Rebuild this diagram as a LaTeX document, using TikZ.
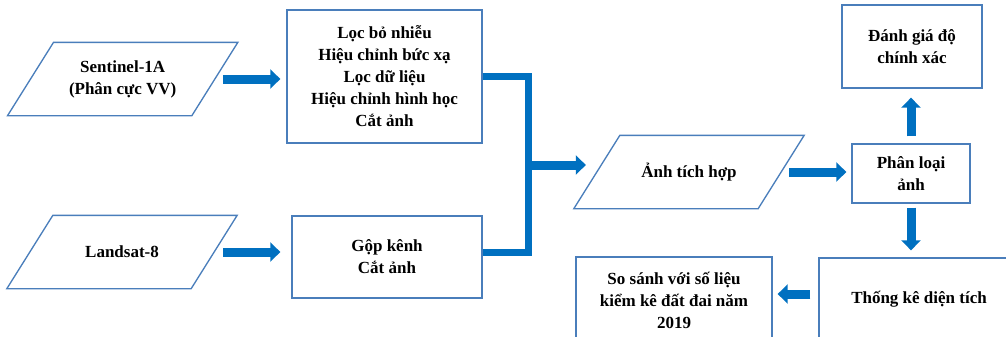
\documentclass[tikz,border=0pt]{standalone}
\usepackage{fontspec}
\setmainfont{Liberation Serif}
\usetikzlibrary{arrows.meta}

\begin{document}
\begin{tikzpicture}[x=0.03cm, y=-0.03cm]
    % Colors
    \definecolor{edgecolor}{RGB}{74,126,187}
    \definecolor{flowcolor}{RGB}{0,112,192}

    % Dimensions
    \def\pix{0.03cm}
    \def\slant{23}

    \tikzset{
      stepbox/.style={draw=edgecolor, line width=0.04cm, align=center, inner sep=0pt,
        font=\bfseries\fontsize{14.5}{18.8}\selectfont},
      iobox/.style={stepbox, draw=none, minimum width=183*\pix, minimum height=72*\pix},
      flow/.style={draw=flowcolor, line width=9*\pix, -{Triangle[length=0.3cm, width=0.57cm]}},
      link/.style={draw=flowcolor, line width=7*\pix},
    }

    \useasboundingbox (0,0) rectangle (1006,337);

    % Inputs
    \node[iobox] (sen) at (122.7, 79) {Sentinel-1A\\(Phân cực VV)};
    \node[iobox] (lan) at (122, 252) {Landsat-8};

    % Preprocessing
    \node[stepbox, minimum width=195*\pix, minimum height=133*\pix] (loc) at (384.5, 76.5)
      {Lọc bỏ nhiễu\\Hiệu chỉnh bức xạ\\Lọc dữ liệu\\Hiệu chỉnh hình học\\Cắt ảnh};
    \node[stepbox, minimum width=190*\pix, minimum height=82*\pix] (gop) at (387, 257)
      {Gộp kênh\\Cắt ảnh};

    % Classification
    \node[iobox] (tich) at (689, 172) {Ảnh tích hợp};
    \node[stepbox, minimum width=118*\pix, minimum height=59*\pix] (phan) at (911, 173.5)
      {Phân loại\\ảnh};
    \node[stepbox, minimum width=140*\pix, minimum height=83*\pix] (danh) at (912, 46.5)
      {Đánh giá độ\\chính xác};
    \node[stepbox, minimum width=200*\pix, minimum height=82*\pix] (thong) at (919, 299)
      {Thống kê diện tích};
    \node[stepbox, minimum width=196*\pix, minimum height=86*\pix] (sosanh) at (674, 300)
      {So sánh với số liệu\\kiểm kê đất đai năm\\2019};

    % Parallelogram outlines
    \foreach \n in {sen, lan, tich} {
        \draw[edgecolor, line width=0.04cm]
          ([xshift=-\slant*\pix]\n.south west) -- ([xshift=\slant*\pix]\n.north west)
          -- ([xshift=\slant*\pix]\n.north east) -- ([xshift=-\slant*\pix]\n.south east) -- cycle;
    }

    % Arrows
    \draw[flow, shorten <=8*\pix, shorten >=6*\pix] (sen.east) -- (sen.east -| loc.west);
    \draw[flow, shorten <=9*\pix, shorten >=11*\pix] (lan.east) -- (lan.east -| gop.west);

    % Merge
    \coordinate (join) at (528, 165);
    \draw[link] (loc.east) -| (join) |- ([yshift=5*\pix]gop.east);
    \draw[flow, shorten >=11*\pix] (join) -- (join -| tich.west);

    \draw[flow, shorten <=8*\pix, shorten >=5*\pix] (tich.east) -- (tich.east -| phan.west);
    \draw[flow, shorten <=7*\pix, shorten >=9*\pix] (phan.north) -- (phan.north |- danh.south);
    \draw[flow, shorten <=4*\pix, shorten >=7*\pix] (phan.south) -- (phan.south |- thong.north);
    \draw[flow, shorten <=8*\pix, shorten >=5*\pix]
      ([yshift=5*\pix]thong.west) -- ([yshift=5*\pix]thong.west -| sosanh.east);
\end{tikzpicture}
\end{document}
